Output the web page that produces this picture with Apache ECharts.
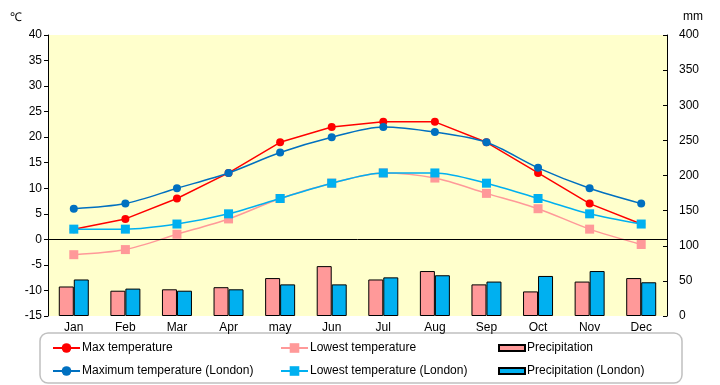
<!DOCTYPE html>
<html><head><meta charset="utf-8">
<script src="https://cdn.jsdelivr.net/npm/echarts@6/dist/echarts.min.js"></script>
<style>html,body{margin:0;padding:0;background:#fff}#c{width:720px;height:385px}</style>
</head><body><div id="c"></div>
<script>
const months = ['Jan','Feb','Mar','Apr','may','Jun','Jul','Aug','Sep','Oct','Nov','Dec'];
const maxTemp = [2,4,8,13,19,22,23,23,19,13,7,3];
const minTemp = [-3,-2,1,4,8,11,13,12,9,6,2,-1];
const maxLondon = [6,7,10,13,17,20,22,21,19,14,10,7];
const minLondon = [2,2,3,5,8,11,13,13,11,8,5,3];
const precip = [42,36,38,41,54,71,52,64,45,35,49,54];
const precipLondon = [52,39,36,38,45,45,55,58,49,57,64,48];

const font = '"Liberation Sans", Arial, sans-serif';
const chart = echarts.init(document.getElementById('c'), null, {renderer:'canvas'});
const legendBase = {orient:'vertical', top:342, itemGap:11, itemWidth:27, itemHeight:12,
  textStyle:{fontFamily:font, fontSize:12, color:'#000', padding:[0,0,0,-3]}, padding:0};
chart.setOption({
  animation:false,
  backgroundColor:'#fff',
  textStyle:{fontFamily:font},
  grid:{left:48, right:53, top:35, bottom:69, show:true, backgroundColor:'#FFFFCC', borderWidth:0},
  graphic:[{type:'rect', shape:{x:40, y:333, width:642, height:50, r:8}, style:{fill:'none', stroke:'#c0c0c0', lineWidth:1.5}, silent:true}],
  legend:[
    Object.assign({}, legendBase, {left:52, data:['Max temperature','Maximum temperature (London)']}),
    Object.assign({}, legendBase, {left:280, data:['Lowest temperature','Lowest temperature (London)']}),
    Object.assign({}, legendBase, {left:498, itemWidth:26, itemHeight:6,
      data:[{name:'Precipitation', icon:'rect'},{name:'Precipitation (London)', icon:'rect'}]})
  ],
  xAxis:{type:'category', data:months, boundaryGap:true,
    axisLine:{show:false}, axisTick:{show:false},
    axisLabel:{color:'#000', fontSize:12, margin:6, fontFamily:font}},
  yAxis:[
    {type:'value', min:-15, max:40, interval:5, name:'℃', nameGap:11,
     nameTextStyle:{color:'#000', fontSize:12, align:'right', padding:[0,26,0,0]},
     axisLine:{show:true, lineStyle:{color:'#000'}}, axisTick:{show:true, length:4, lineStyle:{color:'#000'}},
     splitLine:{show:false}, axisLabel:{color:'#000', fontSize:12, margin:6}},
    {type:'value', min:0, max:400, interval:50, name:'mm', nameGap:12,
     nameTextStyle:{color:'#000', fontSize:12, align:'left', padding:[0,0,0,16]},
     axisLine:{show:true, lineStyle:{color:'#000'}}, axisTick:{show:true, inside:true, length:4, lineStyle:{color:'#000'}},
     splitLine:{show:false}, axisLabel:{color:'#000', fontSize:12, margin:12}}
  ],
  series:[
    {name:'Precipitation', type:'bar', yAxisIndex:1, data:precip, barWidth:15, barGap:'0%',
     itemStyle:{color:'#FF9999', borderColor:'#000', borderWidth:1}, z:1},
    {name:'Precipitation (London)', type:'bar', yAxisIndex:1, data:precipLondon, barWidth:15, barGap:'0%',
     itemStyle:{color:'#00B0F0', borderColor:'#000', borderWidth:1}, z:1},
    {name:'Lowest temperature', type:'line', data:minTemp, smooth:0.3, symbol:'rect', symbolSize:9,
     itemStyle:{color:'#FF9999'}, lineStyle:{color:'#FF9999', width:1.5}, z:3,
     markLine:{silent:true, symbol:'none', label:{show:false}, data:[{yAxis:0}], lineStyle:{color:'#000', type:'solid', width:1}}},
    {name:'Max temperature', type:'line', data:maxTemp, symbol:'circle', symbolSize:8,
     itemStyle:{color:'#FF0000'}, lineStyle:{color:'#FF0000', width:1.5}, z:4},
    {name:'Maximum temperature (London)', type:'line', data:maxLondon, smooth:0.3, symbol:'circle', symbolSize:8,
     itemStyle:{color:'#0070C0'}, lineStyle:{color:'#0070C0', width:1.5}, z:5},
    {name:'Lowest temperature (London)', type:'line', data:minLondon, smooth:0.3, symbol:'rect', symbolSize:9,
     itemStyle:{color:'#00B0F0'}, lineStyle:{color:'#00B0F0', width:1.5}, z:6}
  ]
});
</script></body></html>
